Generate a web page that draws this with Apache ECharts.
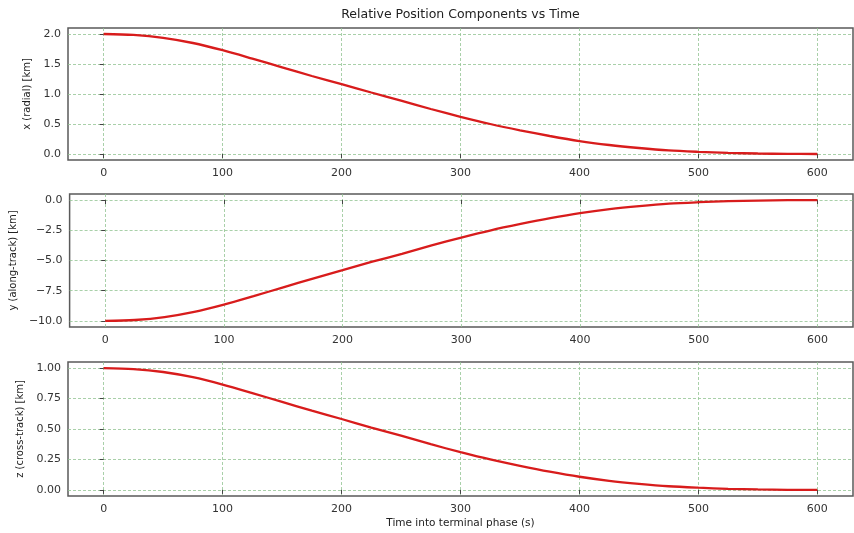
<!DOCTYPE html>
<html>
<head>
<meta charset="utf-8">
<script src="https://cdn.jsdelivr.net/npm/echarts@6/dist/echarts.min.js"></script>
<style>html,body{margin:0;padding:0;background:#fff}#c{width:854px;height:533px}</style>
</head>
<body>
<div id="c"></div>
<script>
// Time samples (s)
const times = [0,25,50,75,100,125,150,175,200,225,250,275,300,325,350,375,400,425,450,475,500,525,550,575,600];
// Radial component x [km]
const xRadial = [2.0,1.984,1.936,1.85,1.73,1.59,1.445,1.30,1.165,1.025,0.89,0.75,0.62,0.50,0.395,0.30,0.215,0.15,0.10,0.06,0.036,0.018,0.008,0.002,0.0];
// Along-track component y [km]
const yAlong = [-10.0,-9.92,-9.68,-9.25,-8.65,-7.95,-7.22,-6.5,-5.8,-5.1,-4.45,-3.75,-3.1,-2.5,-1.98,-1.5,-1.08,-0.75,-0.5,-0.3,-0.18,-0.09,-0.04,-0.01,0.0];
// Cross-track component z [km]
const zCross = [1.0,0.992,0.968,0.925,0.865,0.795,0.722,0.65,0.582,0.512,0.445,0.375,0.31,0.25,0.198,0.15,0.108,0.075,0.05,0.03,0.018,0.009,0.004,0.001,0.0];
// Tick labels
const xTicks = [0,100,200,300,400,500,600];
const xTicksY = [0,0.5,1.0,1.5,2.0];
const yTicksY = [-10,-7.5,-5,-2.5,0];
const zTicksY = [0,0.25,0.5,0.75,1.0];

const FONT = 'DejaVu Sans';
const gridCol = '#93c493';
const minus = s => s.replace('-', '\u2212');

function grid(top, h){
  return {left:68, width:785, top:top, height:h, show:true, borderColor:'#5a5a5a', borderWidth:1.5, backgroundColor:'transparent'};
}
function xAx(gi, name){
  const a = {
    type:'value', gridIndex:gi, min:-30, max:630,
    axisLine:{show:false},
    axisTick:{show:true, length:4, lineStyle:{color:'#444'}, customValues:xTicks},
    axisLabel:{customValues:xTicks, fontSize:11, color:'#333', margin:8, fontFamily:FONT},
    splitLine:{show:true, lineStyle:{color:gridCol, type:[3,2], width:0.8}}
  };
  if (name){
    a.name = name; a.nameLocation='middle'; a.nameGap=22;
    a.nameTextStyle={fontSize:10.5, color:'#222', fontFamily:FONT};
  }
  return a;
}
function yAx(gi, min, max, ticks, dec, name, gap){
  return {
    type:'value', gridIndex:gi, min:min, max:max,
    axisLine:{show:false},
    axisTick:{show:true, length:4, lineStyle:{color:'#444'}, customValues:ticks},
    axisLabel:{customValues:ticks, fontSize:11, color:'#333', margin:7, fontFamily:FONT,
      formatter: v => minus(Number(v).toFixed(dec))},
    splitLine:{show:true, lineStyle:{color:gridCol, type:[3,2], width:0.8}},
    name:name, nameLocation:'middle', nameGap:gap, nameRotate:90,
    nameTextStyle:{fontSize:10, color:'#222', fontFamily:FONT}
  };
}
function ser(i, vals){
  return {type:'line', xAxisIndex:i, yAxisIndex:i, data:times.map((t,k)=>[t, vals[k]]),
    showSymbol:false, smooth:0.3, lineStyle:{color:'#d81c1c', width:2.3}, itemStyle:{color:'#d81c1c'}, animation:false, silent:true};
}

const chart = echarts.init(document.getElementById('c'), null, {renderer:'canvas'});
chart.setOption({
  animation:false,
  backgroundColor:'#fff',
  graphic:[{type:'text', x:460.5, y:15, style:{text:'Relative Position Components vs Time', textAlign:'center', textVerticalAlign:'middle', font:'12.5px "DejaVu Sans"', fill:'#222'}}],
  grid:[grid(28,132), grid(194,133), grid(362,134)],
  xAxis:[xAx(0), xAx(1), xAx(2,'Time into terminal phase (s)')],
  yAxis:[
    yAx(0,-0.1,2.1,xTicksY,1,'x (radial) [km]',32),
    yAx(1,-10.5,0.5,yTicksY,1,'y (along-track) [km]',50),
    yAx(2,-0.05,1.05,zTicksY,2,'z (cross-track) [km]',39)
  ],
  series:[ser(0,xRadial), ser(1,yAlong), ser(2,zCross)]
});
</script>
</body>
</html>
